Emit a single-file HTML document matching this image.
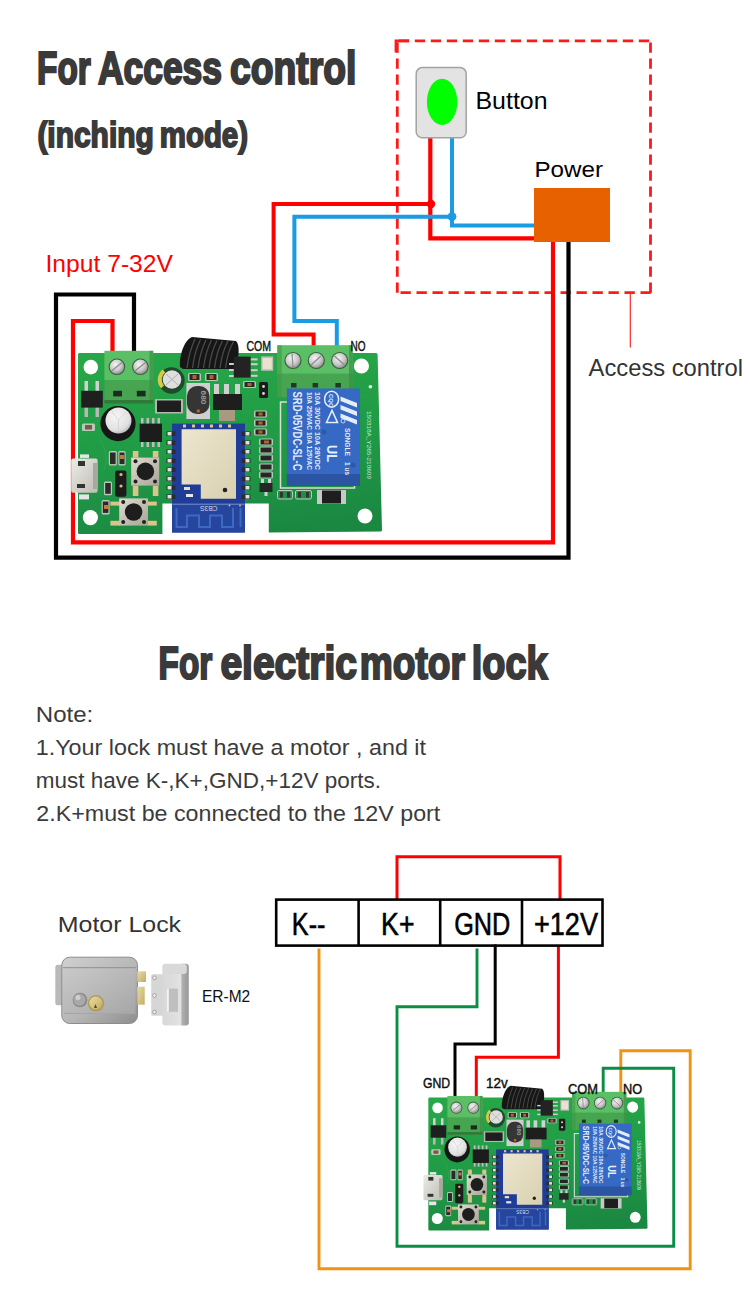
<!DOCTYPE html>
<html><head><meta charset="utf-8">
<style>
html,body{margin:0;padding:0;background:#fff;}
body{width:750px;height:1299px;overflow:hidden;position:relative;}
svg{position:absolute;left:0;top:0;display:block;}
text{font-family:"Liberation Sans",sans-serif;}
</style></head><body>
<svg width="750" height="1299" viewBox="0 0 750 1299">
<defs>
  <radialGradient id="screw" cx="0.4" cy="0.35" r="0.7">
    <stop offset="0" stop-color="#f4f4f4"/><stop offset="0.6" stop-color="#c9c9c9"/><stop offset="1" stop-color="#8a8a8a"/>
  </radialGradient>
  <linearGradient id="pcbg" x1="0.3" y1="0" x2="0.5" y2="1">
    <stop offset="0" stop-color="#27a748"/><stop offset="0.55" stop-color="#209a46"/><stop offset="1" stop-color="#1b8842"/>
  </linearGradient>
  <linearGradient id="silver" x1="0" y1="0" x2="0" y2="1">
    <stop offset="0" stop-color="#e2e2e2"/><stop offset="1" stop-color="#a8a8a8"/>
  </linearGradient>
  <radialGradient id="capface" cx="0.4" cy="0.35" r="0.75"><stop offset="0" stop-color="#f6f6f6"/><stop offset="0.7" stop-color="#e0e0e0"/><stop offset="1" stop-color="#a9a9a9"/></radialGradient>
  <linearGradient id="shield" x1="0" y1="0" x2="1" y2="1"><stop offset="0" stop-color="#ece6cf"/><stop offset="1" stop-color="#d9d0b0"/></linearGradient>
  <linearGradient id="usb" x1="0" y1="0" x2="1" y2="1"><stop offset="0" stop-color="#ecece6"/><stop offset="1" stop-color="#bdbdb5"/></linearGradient>
  <linearGradient id="btn" x1="0" y1="0" x2="1" y2="1"><stop offset="0" stop-color="#dedbd0"/><stop offset="1" stop-color="#a8a496"/></linearGradient>
  <g id="pcb">
    <!-- board -->
    <path d="M79.5,353 L376,353 Q377.5,353 377.6,354.5 L382,530 Q382,531.5 380.5,531.5 L268.8,532.5 L268.8,503.6 L162.4,503.6 L162.4,534 L79.5,534 Q78,534 78,532.5 L78,354.5 Q78,353 79.5,353 Z" fill="url(#pcbg)"/>
    <path d="M100,440 Q110,455 104,470 M250,380 l20,20 M255,500 l-10,-10" stroke="#3fae4f" stroke-width="0.8" fill="none" opacity="0.6"/>
    <!-- holes -->
    <circle cx="90.8" cy="367.1" r="7.3" fill="#fff"/>
    <circle cx="361.4" cy="366" r="7.6" fill="#fff"/>
    <circle cx="90.4" cy="517.6" r="7.6" fill="#fff"/>
    <circle cx="365" cy="516" r="7.5" fill="#fff"/>
    <circle cx="370.4" cy="386.8" r="1.8" fill="#e8f5e8"/>
    <text transform="translate(367,411) rotate(90)" font-size="6.2" fill="#cfe8d0" textLength="68" lengthAdjust="spacingAndGlyphs">150318A_Y265-210609</text>

    <!-- terminal 2 -->
    <rect x="104.4" y="350.8" width="48.8" height="29.6" fill="#5bbf65"/>
    <rect x="104.4" y="380.4" width="48.8" height="23.2" fill="#47a451"/>
    <rect x="149.5" y="350.8" width="3.7" height="52.8" fill="#3b8f44" opacity="0.7"/>
    <rect x="104.4" y="400" width="48.8" height="3.6" fill="#2f7a39"/>
    <circle cx="116.9" cy="366.8" r="8.3" fill="#3b5e40"/>
    <circle cx="116.9" cy="366.8" r="7.2" fill="url(#screw)"/>
    <circle cx="140.4" cy="366.8" r="8.3" fill="#3b5e40"/>
    <circle cx="140.4" cy="366.8" r="7.2" fill="url(#screw)"/>
    <path d="M111.5,371 L122,362.5 M135,371 L145.5,362.5" stroke="#8c8c8c" stroke-width="1.2"/>
    <rect x="113.2" y="390.8" width="8.8" height="5.6" fill="#1d2a1e"/>
    <rect x="136.8" y="390.8" width="8.8" height="5.6" fill="#1d2a1e"/>

    <!-- bridge rectifier -->
    <rect x="84.5" y="381" width="3.5" height="10" fill="#d0d0d0"/><rect x="95.5" y="381" width="3.5" height="10" fill="#d0d0d0"/>
    <rect x="84.5" y="407" width="3.5" height="10" fill="#b8b8b8"/><rect x="95.5" y="407" width="3.5" height="10" fill="#b8b8b8"/>
    <rect x="81.2" y="390.8" width="21.6" height="16.8" fill="#1f1f1f"/>
    <rect x="82" y="423.5" width="13" height="7.5" rx="1.5" fill="#b9c9b9"/><rect x="85" y="425" width="7" height="4.5" fill="#7a5a3a"/>

    <!-- big cap -->
    <circle cx="118" cy="423.6" r="17.6" fill="#161616"/>
    <circle cx="118.5" cy="420.5" r="13" fill="url(#capface)"/>
    <path d="M112,411 L118.5,420.5 L126,412 M118.5,420.5 L118.5,432" stroke="#d2d2d2" stroke-width="0.8" fill="none"/>

    <!-- SOP8 -->
    <g fill="#bdbdbd"><rect x="141" y="418" width="2.5" height="6"/><rect x="146.5" y="418" width="2.5" height="6"/><rect x="152" y="418" width="2.5" height="6"/><rect x="157.5" y="418" width="2.5" height="6"/>
    <rect x="141" y="441" width="2.5" height="6"/><rect x="146.5" y="441" width="2.5" height="6"/><rect x="152" y="441" width="2.5" height="6"/><rect x="157.5" y="441" width="2.5" height="6"/></g>
    <rect x="139.6" y="423.6" width="22.4" height="18.4" fill="#1c1c1c"/>

    <!-- small cap -->
    <rect x="155" y="399" width="28" height="14.5" fill="#b5b5b5"/>
    <rect x="157" y="400.5" width="24" height="11.5" fill="#1e1e1e"/>
    <circle cx="171.5" cy="380.5" r="13.2" fill="#1f4a2e"/>
    <path d="M164,371 A11,11 0 0 0 162.5,387" stroke="#d6c84a" stroke-width="4" fill="none"/>
    <circle cx="172" cy="379.5" r="9.3" fill="#dedede"/>
    <path d="M166,374 L178,385 M178,374 L166,385" stroke="#b0b0b0" stroke-width="1"/>

    <!-- inductor -->
    <rect x="186.4" y="383" width="23.6" height="36" fill="#cfcfcf"/>
    <rect x="187" y="386" width="22.5" height="28" rx="10" fill="#353535"/>
    <text transform="translate(201,390.5) rotate(90)" font-size="7" font-weight="bold" fill="#9a9a9a" textLength="14" lengthAdjust="spacingAndGlyphs">680</text>
    <circle cx="198.3" cy="411" r="1.8" fill="#c0601c"/>
    <!-- regulator -->
    <rect x="214" y="384" width="5" height="10" fill="#d0d0d0"/><rect x="224" y="384" width="5" height="10" fill="#d0d0d0"/><rect x="235" y="384" width="5" height="10" fill="#d0d0d0"/>
    <rect x="213" y="394" width="29" height="16" fill="#1e1e1e"/>
    <rect x="219" y="410" width="16" height="11" fill="#a89a80"/>
    <!-- top resistors -->
    <g fill="#b9c9b9"><rect x="188" y="373" width="13" height="8" rx="1.5"/><rect x="205" y="373" width="13" height="8" rx="1.5"/><rect x="243" y="381" width="13" height="7" rx="1.5"/></g>
    <g fill="#2a2a2a"><rect x="189.5" y="374" width="10" height="6"/><rect x="206.5" y="374" width="10" height="6"/><rect x="244.5" y="382" width="10" height="5"/></g>
    <g fill="#b0642a"><rect x="192.5" y="375" width="4" height="4"/><rect x="209.5" y="375" width="4" height="4"/><rect x="247.5" y="383" width="4" height="3"/></g>
    <!-- jumper near relay -->
    <rect x="259" y="382" width="9" height="16" rx="1.5" fill="#1c1c1c"/>
    <circle cx="263.5" cy="386.5" r="1.4" fill="#d8d8d8"/><circle cx="263.5" cy="393.5" r="1.4" fill="#d8d8d8"/>

    <!-- antenna coil -->
    <path d="M180,367 C179,356 184,340 192,337 L236,341 C240,345 239,356 236,369 L183,369 Z" fill="#161616"/>
    <g stroke="#4a4a4a" stroke-width="1.3" fill="none">
      <path d="M195,339 Q189,352 187,368"/><path d="M200.5,339.5 Q194.5,352 192.5,368"/><path d="M206,340 Q200,352 198,368"/><path d="M211.5,340 Q205.5,352 203.5,368"/><path d="M217,340.5 Q211,352 209,368"/><path d="M222.5,341 Q216.5,352 214.5,368"/><path d="M228,341 Q222,352 220,368"/><path d="M233.5,341.5 Q227.5,352 225.5,368"/>
    </g>
    <!-- IC near coil -->
    <g fill="#cfcfcf"><rect x="250.6" y="358.4" width="7" height="2"/><rect x="250.6" y="363.2" width="7" height="2"/><rect x="250.6" y="369.2" width="7" height="2"/><rect x="250.6" y="374.8" width="7" height="2"/>
    <rect x="229" y="363" width="5" height="2"/><rect x="229" y="369" width="5" height="2"/><rect x="229" y="375" width="5" height="2"/></g>
    <rect x="233.8" y="356.6" width="16.8" height="21" fill="#232323"/>
    <!-- crystal -->
    <rect x="261.2" y="356.4" width="12" height="14.4" fill="#bdbdbd"/>
    <rect x="262.6" y="358" width="9.2" height="11.2" fill="#eae2cf"/>

    <!-- terminal 3 -->
    <rect x="277.3" y="345.2" width="75.4" height="28.6" fill="#5bbf65"/>
    <rect x="277.3" y="373.8" width="75.4" height="23.4" fill="#47a451"/>
    <rect x="349" y="345.2" width="3.7" height="52" fill="#3b8f44" opacity="0.7"/>
    <circle cx="293" cy="360.5" r="8.6" fill="#3b5e40"/>
    <circle cx="293" cy="360.5" r="7.5" fill="url(#screw)"/>
    <circle cx="316.3" cy="360.5" r="8.6" fill="#3b5e40"/>
    <circle cx="316.3" cy="360.5" r="7.5" fill="url(#screw)"/>
    <circle cx="339.7" cy="360.5" r="8.6" fill="#3b5e40"/>
    <circle cx="339.7" cy="360.5" r="7.5" fill="url(#screw)"/>
    <path d="M292,353.5 L293,367.5 M311,365 L321,356 M334.5,356 L344.5,365" stroke="#8c8c8c" stroke-width="1.2"/><rect x="277.3" y="345.2" width="4.5" height="52" fill="#3f9a48" opacity="0.6"/>
    <g fill="#1e3a22"><rect x="291" y="383" width="5.5" height="4.5"/><rect x="312.6" y="383" width="5.5" height="4.5"/><rect x="335.4" y="383" width="5.5" height="4.5"/></g>

    <!-- relay -->
    <rect x="280.5" y="402" width="74" height="86" fill="none" stroke="#d6ded6" stroke-width="1.5"/>
    <rect x="286.9" y="388.5" width="73.1" height="88" fill="#3569c3"/>
    <rect x="286.9" y="474" width="73.1" height="12" fill="#2b55a3"/>
    
    <g fill="#e4ecfa">
    <text transform="translate(293,391.5) rotate(90)" font-size="12.5" font-weight="bold" textLength="79" lengthAdjust="spacingAndGlyphs">SRD-05VDC-SL-C</text>
    <text transform="translate(306.5,392) rotate(90)" font-size="7.5" font-weight="bold" textLength="78" lengthAdjust="spacingAndGlyphs">10A 250VAC  10A 125VAC</text>
    <text transform="translate(314.5,392) rotate(90)" font-size="7.5" font-weight="bold" textLength="78" lengthAdjust="spacingAndGlyphs">10A 30VDC   10A 28VDC</text>
    <path d="M340.5,396.5 L357,403 L357,407.5 L340.5,401 Z M340.5,405 L357,411.5 L357,416 L340.5,409.5 Z M340.5,413.5 L357,420 L357,424.5 L340.5,418 Z"/>
    <text transform="translate(345,428) rotate(90)" font-size="7" font-weight="bold" textLength="28" lengthAdjust="spacingAndGlyphs">SONGLE</text>
    <text transform="translate(327,445) rotate(90)" font-size="14" font-weight="bold" textLength="17" lengthAdjust="spacingAndGlyphs">UL</text>
    <text transform="translate(345,462) rotate(90)" font-size="6.5" font-weight="bold">1 us</text>
    </g>
    <ellipse cx="331.6" cy="399.2" rx="7" ry="8" fill="none" stroke="#e4ecfa" stroke-width="1.5"/><text transform="translate(328.5,394) rotate(90)" font-size="6" font-weight="bold" fill="#e4ecfa">CQC</text>
    <path d="M326.5,422.5 L332,410.5 L337.5,422.5 Z" fill="none" stroke="#e4ecfa" stroke-width="1.6"/>
    <circle cx="343" cy="421" r="2" fill="none" stroke="#e4ecfa" stroke-width="0.8"/>
    <circle cx="324" cy="432" r="2.5" fill="#2c5aa8"/>
    <circle cx="353" cy="465" r="2.6" fill="#2c5aa8"/>

    <!-- diode + small resistors -->
    <rect x="317" y="490" width="29" height="14" fill="#c8c8c8"/>
    <rect x="322" y="490.5" width="19" height="13" fill="#1e1e1e"/>
    <g fill="none" stroke="#b9c9b9" stroke-width="1"><rect x="277.5" y="490.5" width="15" height="8.5" rx="1.5"/><rect x="295.5" y="490.5" width="16" height="8.5" rx="1.5"/></g>
    <g fill="#333"><rect x="280" y="492" width="3" height="5.5"/><rect x="287" y="492" width="3" height="5.5"/><rect x="298" y="492" width="3" height="5.5"/><rect x="306" y="492" width="3" height="5.5"/></g>

    <!-- resistor columns -->
    <g fill="#b9c9b9">
      <rect x="254" y="410.5" width="13" height="7" rx="1.5"/><rect x="254" y="419.5" width="13" height="7" rx="1.5"/><rect x="254" y="428.5" width="13" height="7" rx="1.5"/>
      <rect x="259" y="438.5" width="14" height="7" rx="1.5"/><rect x="259" y="446.5" width="14" height="7" rx="1.5"/><rect x="259" y="454.5" width="14" height="7" rx="1.5"/><rect x="259" y="463.5" width="14" height="7" rx="1.5"/><rect x="259" y="471.5" width="14" height="7" rx="1.5"/>
    </g>
    <g fill="#262626">
      <rect x="255.5" y="411.5" width="10" height="5"/><rect x="255.5" y="420.5" width="10" height="5"/><rect x="255.5" y="429.5" width="10" height="5"/>
      <rect x="260.5" y="439.5" width="11" height="5"/><rect x="260.5" y="447.5" width="11" height="5"/><rect x="260.5" y="455.5" width="11" height="5"/><rect x="260.5" y="464.5" width="11" height="5"/><rect x="260.5" y="472.5" width="11" height="5"/>
      <rect x="259.5" y="483" width="13" height="9"/>
    </g>
    <g fill="#b0642a"><rect x="258.5" y="412.5" width="4" height="3"/><rect x="258.5" y="421.5" width="4" height="3"/><rect x="258.5" y="430.5" width="4" height="3"/><rect x="264" y="440.5" width="5" height="3"/></g>
    <g fill="#d0d0d0"><rect x="261" y="479" width="3" height="4"/><rect x="268" y="479" width="3" height="4"/><rect x="264.5" y="492" width="3" height="4"/></g>

    <!-- wifi module -->
    <rect x="172" y="423.6" width="73" height="108.8" fill="#1f3d96"/>
    <g>
      <rect x="166.5" y="431.5" width="9" height="4.5" fill="#2c2c2c"/><rect x="167.5" y="432" width="4" height="3.5" fill="#e0e0e0"/><rect x="241.5" y="431.5" width="9" height="4.5" fill="#2c2c2c"/><rect x="245.5" y="432" width="4" height="3.5" fill="#e0e0e0"/>
      <rect x="166.5" y="440.5" width="9" height="4.5" fill="#2c2c2c"/><rect x="167.5" y="441" width="4" height="3.5" fill="#e0e0e0"/><rect x="241.5" y="440.5" width="9" height="4.5" fill="#2c2c2c"/><rect x="245.5" y="441" width="4" height="3.5" fill="#e0e0e0"/>
      <rect x="166.5" y="449.5" width="9" height="4.5" fill="#2c2c2c"/><rect x="167.5" y="450" width="4" height="3.5" fill="#e0e0e0"/><rect x="241.5" y="449.5" width="9" height="4.5" fill="#2c2c2c"/><rect x="245.5" y="450" width="4" height="3.5" fill="#e0e0e0"/>
      <rect x="166.5" y="458.5" width="9" height="4.5" fill="#2c2c2c"/><rect x="167.5" y="459" width="4" height="3.5" fill="#e0e0e0"/><rect x="241.5" y="458.5" width="9" height="4.5" fill="#2c2c2c"/><rect x="245.5" y="459" width="4" height="3.5" fill="#e0e0e0"/>
      <rect x="166.5" y="467.5" width="9" height="4.5" fill="#2c2c2c"/><rect x="167.5" y="468" width="4" height="3.5" fill="#e0e0e0"/><rect x="241.5" y="467.5" width="9" height="4.5" fill="#2c2c2c"/><rect x="245.5" y="468" width="4" height="3.5" fill="#e0e0e0"/>
      <rect x="166.5" y="476.5" width="9" height="4.5" fill="#2c2c2c"/><rect x="167.5" y="477" width="4" height="3.5" fill="#e0e0e0"/><rect x="241.5" y="476.5" width="9" height="4.5" fill="#2c2c2c"/><rect x="245.5" y="477" width="4" height="3.5" fill="#e0e0e0"/>
      <rect x="166.5" y="485.5" width="9" height="4.5" fill="#2c2c2c"/><rect x="167.5" y="486" width="4" height="3.5" fill="#e0e0e0"/><rect x="241.5" y="485.5" width="9" height="4.5" fill="#2c2c2c"/><rect x="245.5" y="486" width="4" height="3.5" fill="#e0e0e0"/>
      <rect x="166.5" y="494.5" width="9" height="4.5" fill="#2c2c2c"/><rect x="167.5" y="495" width="4" height="3.5" fill="#e0e0e0"/><rect x="241.5" y="494.5" width="9" height="4.5" fill="#2c2c2c"/><rect x="245.5" y="495" width="4" height="3.5" fill="#e0e0e0"/>
    </g>
    <g fill="#e0c880"><rect x="183" y="424.5" width="3" height="3"/><rect x="192" y="424.5" width="3" height="3"/><rect x="201" y="424.5" width="3" height="3"/><rect x="210" y="424.5" width="3" height="3"/><rect x="219" y="424.5" width="3" height="3"/><rect x="228" y="424.5" width="3" height="3"/></g>
    <path d="M181.6,429.2 H236 V498.8 H200.8 V484.4 H181.6 Z" fill="url(#shield)"/>
    <circle cx="225" cy="490" r="2.3" fill="#222"/>
    <rect x="184" y="487" width="6" height="3" fill="#e8e0c0"/><rect x="186" y="494" width="7" height="3" fill="#e8e8e8"/>
    <rect x="172.2" y="503.6" width="72.6" height="29" fill="#25469c"/>
    <line x1="172.5" y1="504.2" x2="244.5" y2="504.2" stroke="#8fa6d8" stroke-width="0.8"/>
    <path d="M176.5,508 V527 H187 V515.5 H199 V527 H210 V515.5 H222 V527 H233 V508 M240.5,508 V527" fill="none" stroke="#3d68c6" stroke-width="2"/>
    <text transform="translate(217.5,506.3) rotate(180)" font-size="6.5" fill="#cfd8f0" textLength="17.5" lengthAdjust="spacingAndGlyphs">CB3S</text>
    <circle cx="229.5" cy="505.5" r="0.9" fill="#e0c060"/><circle cx="240" cy="505.5" r="0.9" fill="#e0c060"/>

    <!-- left small parts -->
    <rect x="80" y="454.4" width="9" height="3.5" fill="#e6e6e6"/>
    <rect x="79" y="494.4" width="10" height="5" fill="#e6e6e6"/>
    <g fill="#b9c9b9"><rect x="108.8" y="451" width="8" height="14.6" rx="1.5"/><rect x="118.4" y="451" width="7.2" height="14.6" rx="1.5"/><rect x="104" y="481.6" width="8" height="13.6" rx="1.5"/><rect x="101.6" y="500" width="8" height="14.4" rx="1.5"/></g>
    <g fill="#2a2a2a"><rect x="110" y="452.5" width="5.6" height="11.6"/><rect x="119.5" y="452.5" width="5" height="11.6"/><rect x="105.2" y="483" width="5.6" height="10.8"/><rect x="102.8" y="501.5" width="5.6" height="11.4"/></g>
    <g fill="#c07a3a"><rect x="104" y="505" width="5" height="4"/><rect x="120" y="455" width="4" height="4"/></g>
    <!-- jumper -->
    <rect x="115.2" y="470.4" width="11.2" height="26.4" rx="2" fill="#1c1c1c"/>
    <circle cx="121" cy="474.5" r="1.6" fill="#d8c070"/><circle cx="121" cy="486" r="1.6" fill="#d8c070"/>
    <!-- micro usb -->
    <rect x="71.2" y="458.4" width="26.4" height="34.4" rx="2" fill="url(#usb)"/>
    <rect x="78" y="461" width="7" height="5" fill="#333"/><rect x="77" y="484" width="8" height="4" fill="#333"/>
    <rect x="93" y="463" width="5" height="26" fill="#a8a8a0"/>
    <!-- buttons -->
    <g fill="#d9c48a"><rect x="132.8" y="451" width="5.6" height="6.6"/><rect x="152.8" y="451" width="5.6" height="6.6"/><rect x="132.8" y="485.6" width="5.6" height="10.4"/><rect x="152.8" y="485.6" width="5.6" height="10.4"/>
    <rect x="110.4" y="501.6" width="9.6" height="4"/><rect x="110.4" y="520.8" width="9.6" height="4.8"/><rect x="147.2" y="501.6" width="9.6" height="4"/><rect x="147.2" y="520.8" width="9.6" height="4.8"/></g>
    <rect x="131.2" y="457.6" width="28" height="28" fill="url(#btn)"/>
    <circle cx="145.4" cy="471.4" r="8.8" fill="#1e1e1e"/>
    <g fill="#222"><circle cx="135.5" cy="461.2" r="2"/><circle cx="155" cy="461.2" r="2"/><circle cx="135.5" cy="481.6" r="2"/><circle cx="155" cy="481.6" r="2"/></g>
    <rect x="119.2" y="498.4" width="28.8" height="27.2" fill="url(#btn)"/>
    <circle cx="133.6" cy="512" r="8.8" fill="#1e1e1e"/>
    <g fill="#222"><circle cx="123.2" cy="502" r="2"/><circle cx="144" cy="502" r="2"/><circle cx="123.2" cy="522" r="2"/><circle cx="144" cy="522" r="2"/></g>
  </g>
</defs>

<!-- ===== TOP SECTION ===== -->
<!-- dashed box -->
<g stroke="#ff1a1a" stroke-width="2.8" fill="none" stroke-dasharray="10.3 5.7">
  <path d="M398.8,40.8 H652"/>
  <path d="M400.5,292.7 H652"/>
  <path d="M397.3,42.4 V293.6"/>
  <path d="M650.5,42.4 V293"/>
</g>
<path d="M396,52.5 V40.8 H409" stroke="#ff1a1a" stroke-width="2.8" fill="none"/>
<line x1="630.3" y1="293" x2="630.3" y2="347.5" stroke="#ff2a2a" stroke-width="1.2"/>

<!-- wires top -->
<g fill="none" stroke-linejoin="miter" stroke-linecap="square">
  <!-- black main loop -->
  <path d="M134,350 V294.5 H56 V557.6 H568.5 V242" stroke="#000" stroke-width="4.2"/>
  <!-- red main loop -->
  <path d="M112.5,350 V321 H73 V542.4 H553 V242" stroke="#ff0000" stroke-width="4.2"/>
  <!-- red to COM -->
  <path d="M313.6,346 V334.5 H273.6 V204 H430.3" stroke="#ff0000" stroke-width="4"/>
  <!-- red button to power -->
  <path d="M430.3,138 V238.4 H534" stroke="#ff0000" stroke-width="4.2"/>
  <!-- blue to NO -->
  <path d="M336.8,346 V321 H294.4 V216.8 H452" stroke="#1a9be2" stroke-width="4"/>
  <path d="M452,138 V225.5 H534" stroke="#1a9be2" stroke-width="4"/>
</g>
<circle cx="431" cy="204" r="4.2" fill="#ff0000"/>
<circle cx="452" cy="216.6" r="4.4" fill="#1a9be2"/>

<!-- button -->
<rect x="416.2" y="67.6" width="50" height="70.2" rx="6" fill="#e3e3e3" stroke="#a3a3a3" stroke-width="1.5"/>
<ellipse cx="442.1" cy="101.9" rx="15.2" ry="23.2" fill="#00ff00"/>
<!-- power -->
<rect x="534" y="188" width="76" height="54" fill="#e86100"/>

<use href="#pcb"/>

<!-- text top -->
<!--TITLES-->
<text x="37.00" y="84.2" font-size="46.5" font-weight="bold" fill="#3a3a3a" stroke="#3a3a3a" stroke-width="2.2" textLength="53.80" lengthAdjust="spacingAndGlyphs">For</text>
<text x="98.00" y="84.2" font-size="46.5" font-weight="bold" fill="#3a3a3a" stroke="#3a3a3a" stroke-width="2.2" textLength="124.00" lengthAdjust="spacingAndGlyphs">Access</text>
<text x="230.00" y="84.2" font-size="46.5" font-weight="bold" fill="#3a3a3a" stroke="#3a3a3a" stroke-width="2.2" textLength="126.40" lengthAdjust="spacingAndGlyphs">control</text>
<text x="37.40" y="146.5" font-size="35" font-weight="bold" fill="#3a3a3a" stroke="#3a3a3a" stroke-width="1.8" textLength="116.40" lengthAdjust="spacingAndGlyphs">(inching</text>
<text x="159.80" y="146.5" font-size="35" font-weight="bold" fill="#3a3a3a" stroke="#3a3a3a" stroke-width="1.8" textLength="88.20" lengthAdjust="spacingAndGlyphs">mode)</text>
<text x="158.60" y="679" font-size="46.5" font-weight="bold" fill="#3a3a3a" stroke="#3a3a3a" stroke-width="2.2" textLength="53.60" lengthAdjust="spacingAndGlyphs">For</text>
<text x="220.40" y="679" font-size="46.5" font-weight="bold" fill="#3a3a3a" stroke="#3a3a3a" stroke-width="2.2" textLength="136.60" lengthAdjust="spacingAndGlyphs">electric</text>
<text x="359.80" y="679" font-size="46.5" font-weight="bold" fill="#3a3a3a" stroke="#3a3a3a" stroke-width="2.2" textLength="105.20" lengthAdjust="spacingAndGlyphs">motor</text>
<text x="471.80" y="679" font-size="46.5" font-weight="bold" fill="#3a3a3a" stroke="#3a3a3a" stroke-width="2.2" textLength="75.80" lengthAdjust="spacingAndGlyphs">lock</text>
<!--/TITLES-->
<text x="45.5" y="271.6" font-size="23.5" fill="#ff0000" textLength="127.5" lengthAdjust="spacingAndGlyphs">Input 7-32V</text>
<text x="475.5" y="109" font-size="23" fill="#000" textLength="72" lengthAdjust="spacingAndGlyphs">Button</text>
<text x="534.5" y="176.6" font-size="22.7" fill="#000" textLength="68.5" lengthAdjust="spacingAndGlyphs">Power</text>
<text x="588.6" y="376" font-size="23.8" fill="#333" textLength="154.4" lengthAdjust="spacingAndGlyphs">Access control</text>
<text x="246.5" y="350.8" font-size="14.5" fill="#111" stroke="#111" stroke-width="0.45" textLength="24.6" lengthAdjust="spacingAndGlyphs">COM</text>
<text x="350.5" y="350.5" font-size="14.5" fill="#111" stroke="#111" stroke-width="0.45" textLength="15" lengthAdjust="spacingAndGlyphs">NO</text>

<!-- ===== BOTTOM SECTION ===== -->
<g font-size="22.5" fill="#3b3b3b">
<text x="35.8" y="722" textLength="57.5" lengthAdjust="spacingAndGlyphs">Note:</text>
<text x="35.8" y="755.1" textLength="390.2" lengthAdjust="spacingAndGlyphs">1.Your lock must have a motor , and it</text>
<text x="35.8" y="788" textLength="345.2" lengthAdjust="spacingAndGlyphs">must have K-,K+,GND,+12V ports.</text>
<text x="36.3" y="821.1" textLength="404" lengthAdjust="spacingAndGlyphs">2.K+must be connected to the 12V port</text>
</g>

<!-- wires bottom -->
<g fill="none" stroke-linecap="square">
  <path d="M397,898 V856.7 H560 V898" stroke="#ff0000" stroke-width="3"/>
  <path d="M319,950 V1268.8 H690.2 V1050.8 H620.8 V1093" stroke="#f29210" stroke-width="2.9"/>
  <path d="M477,950 V1006.8 H397 V1246.3 H673.7 V1068.2 H603.2 V1093" stroke="#0b8d45" stroke-width="2.9"/>
  <path d="M495.2,946 V1044 H455 V1096" stroke="#000" stroke-width="3"/>
  <path d="M558.4,948 V1057.3 H476.3 V1096" stroke="#ff0000" stroke-width="3"/>
</g>

<!-- connector table -->
<g fill="none" stroke="#000" stroke-width="2.6">
  <rect x="276.2" y="899.6" width="326.3" height="46"/>
  <line x1="358.6" y1="899.6" x2="358.6" y2="945.6"/>
  <line x1="440.2" y1="899.6" x2="440.2" y2="945.6"/>
  <line x1="522" y1="899.6" x2="522" y2="945.6"/>
</g>
<g font-size="30.5" fill="#000" stroke="#000" stroke-width="0.55">
<text x="291.8" y="935.1" textLength="33.7" lengthAdjust="spacingAndGlyphs">K--</text>
<text x="381.1" y="935.1" textLength="33.4" lengthAdjust="spacingAndGlyphs">K+</text>
<text x="454.2" y="935.1" textLength="56.2" lengthAdjust="spacingAndGlyphs">GND</text>
<text x="534" y="935.1" textLength="64" lengthAdjust="spacingAndGlyphs">+12V</text>
</g>

<use href="#pcb" transform="translate(372.1,838.1) scale(0.721,0.735)"/>

<text x="423" y="1088" font-size="14.5" fill="#111" stroke="#111" stroke-width="0.45" textLength="27.2" lengthAdjust="spacingAndGlyphs">GND</text>
<text x="486" y="1088" font-size="14.5" fill="#111" stroke="#111" stroke-width="0.45" textLength="21.8" lengthAdjust="spacingAndGlyphs">12v</text>
<text x="568" y="1094.4" font-size="14.5" fill="#111" stroke="#111" stroke-width="0.45" textLength="30" lengthAdjust="spacingAndGlyphs">COM</text>
<text x="623" y="1094.4" font-size="14.5" fill="#111" stroke="#111" stroke-width="0.45" textLength="19.2" lengthAdjust="spacingAndGlyphs">NO</text>

<!-- motor lock -->
<text x="57.8" y="932.2" font-size="22.4" fill="#333" textLength="123.3" lengthAdjust="spacingAndGlyphs">Motor Lock</text>
<text x="202" y="1002.2" font-size="16.3" fill="#111" textLength="48.2" lengthAdjust="spacingAndGlyphs">ER-M2</text>
<g>
  <defs>
    <linearGradient id="lockbody" x1="0" y1="0" x2="1" y2="1"><stop offset="0" stop-color="#d0d0d0"/><stop offset="0.55" stop-color="#b6b6b6"/><stop offset="1" stop-color="#8e8e8e"/></linearGradient>
    <linearGradient id="lockface" x1="0" y1="0" x2="1" y2="1"><stop offset="0" stop-color="#c9c9c9"/><stop offset="0.6" stop-color="#b5b5b5"/><stop offset="1" stop-color="#a6a6a6"/></linearGradient>
    <linearGradient id="brass" x1="0" y1="0" x2="1" y2="1"><stop offset="0" stop-color="#e8dba4"/><stop offset="1" stop-color="#c2ad66"/></linearGradient>
    <linearGradient id="strikebox" x1="0" y1="0" x2="1" y2="0"><stop offset="0" stop-color="#d8d8d8"/><stop offset="0.7" stop-color="#e2e2e2"/><stop offset="0.74" stop-color="#b0b0b0"/><stop offset="1" stop-color="#989898"/></linearGradient>
  </defs>
  <path d="M62,964.7 H57.5 Q55.3,964.7 55.3,967 V1003 Q55.3,1005.3 57.5,1005.3 H62 Z" fill="#b9b9b9"/>
  <rect x="61.8" y="957.2" width="75.7" height="66.3" rx="8" fill="url(#lockbody)" stroke="#8c8c8c" stroke-width="1"/>
  <rect x="63.5" y="967.5" width="72" height="46" rx="2" fill="url(#lockface)"/>
  <line x1="63" y1="967.7" x2="136" y2="967.7" stroke="#8f8f8f" stroke-width="1"/>
  <line x1="64" y1="1013.5" x2="136" y2="1013.5" stroke="#a5a5a5" stroke-width="1"/>
  <path d="M137.3,971.3 H146 V982 H137.3 Z" fill="url(#brass)"/>
  <path d="M137.3,986.7 H144.7 V1004.7 H137.3 Z" fill="url(#brass)"/>
  <circle cx="80" cy="1000" r="7.3" fill="#8a8a8a"/>
  <circle cx="79.5" cy="999.8" r="6" fill="#a9a9a9"/>
  <circle cx="78" cy="997.5" r="2.5" fill="#cfcfcf"/>
  <circle cx="96" cy="1003.3" r="8.3" fill="#b39d5a"/>
  <circle cx="95.8" cy="1003" r="6.5" fill="url(#brass)"/>
  <path d="M95.5,1004 l-1.5,4 h3 z" fill="#5a4a20"/>
  <rect x="151.2" y="974.2" width="12" height="41.6" rx="1.5" fill="#d6d6d6"/>
  <g fill="#f2f2f2" stroke="#8a8a8a" stroke-width="0.7"><circle cx="154.5" cy="977.8" r="1.8"/><circle cx="154.5" cy="995.5" r="1.8"/><circle cx="154.5" cy="1012" r="1.8"/></g>
  <rect x="162.4" y="963.8" width="26.4" height="61.6" rx="3" fill="url(#strikebox)"/>
  <rect x="162.8" y="964" width="24" height="10" rx="3" fill="#d9d9d9"/>
  <rect x="166.8" y="988.6" width="11.2" height="23.2" fill="#bfbfbf"/>
  <rect x="166.8" y="988.6" width="2" height="23.2" fill="#f4f4f4"/>
</g>
</svg>
</body></html>
